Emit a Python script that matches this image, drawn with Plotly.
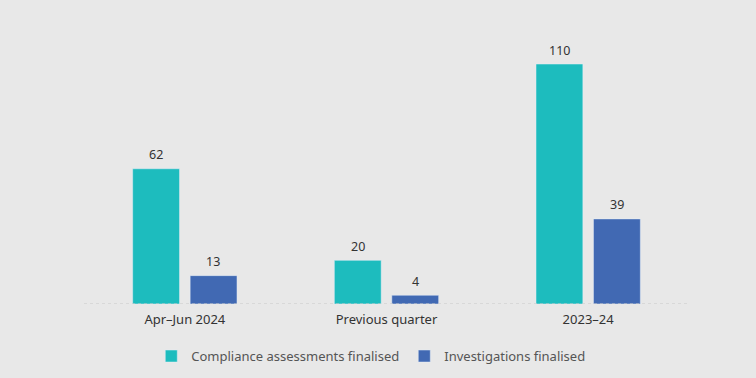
import plotly.graph_objects as go

categories = ["Apr–Jun 2024", "Previous quarter", "2023–24"]
compliance = [62, 20, 110]
investigations = [13, 4, 39]

TEAL = "#1dbcbe"
BLUE = "#4169b3"
FONT = "'Noto Sans', 'Open Sans', sans-serif"

fig = go.Figure()
fig.add_trace(go.Bar(x=categories, y=compliance, name="Compliance assessments finalised",
                     marker_color=TEAL, offsetgroup=0))
fig.add_trace(go.Bar(x=categories, y=investigations, name="Investigations finalised",
                     marker_color=BLUE, offsetgroup=1))

for i, c in enumerate(categories):
    for vals, shift in ((compliance, -28.5), (investigations, 28.5)):
        fig.add_annotation(x=c, y=vals[i], text=str(vals[i]), showarrow=False,
                           xshift=shift, yshift=14, yanchor="middle",
                           font=dict(family=FONT, size=12.5, color="#333333"))

fig.add_shape(type="line", xref="paper", yref="y", x0=0, x1=1, y0=0, y1=0,
              line=dict(color="#c8c8c8", width=1, dash="dot"))

fig.update_layout(
    width=756, height=378,
    paper_bgcolor="#e8e8e8", plot_bgcolor="#e8e8e8",
    margin=dict(l=84, r=67, t=30, b=74, autoexpand=False),
    barmode="group", bargap=0.43, bargroupgap=0.185,
    font=dict(family=FONT, size=13, color="#333333"),
    showlegend=True,
    legend=dict(orientation="h", x=0.474, xanchor="center",
                yref="container", y=0.058, yanchor="middle",
                font=dict(family=FONT, size=13, color="#555555"),
                itemwidth=30, traceorder="normal"),
    xaxis=dict(showgrid=False, showline=False, ticks="", ticklabelstandoff=6,
               tickfont=dict(size=13, color="#333333")),
    yaxis=dict(range=[0, 125.6], visible=False, showgrid=False, zeroline=False),
)

fig.write_html("out.html", config={"displayModeBar": False},
               post_script="document.body.style.margin='0';")
